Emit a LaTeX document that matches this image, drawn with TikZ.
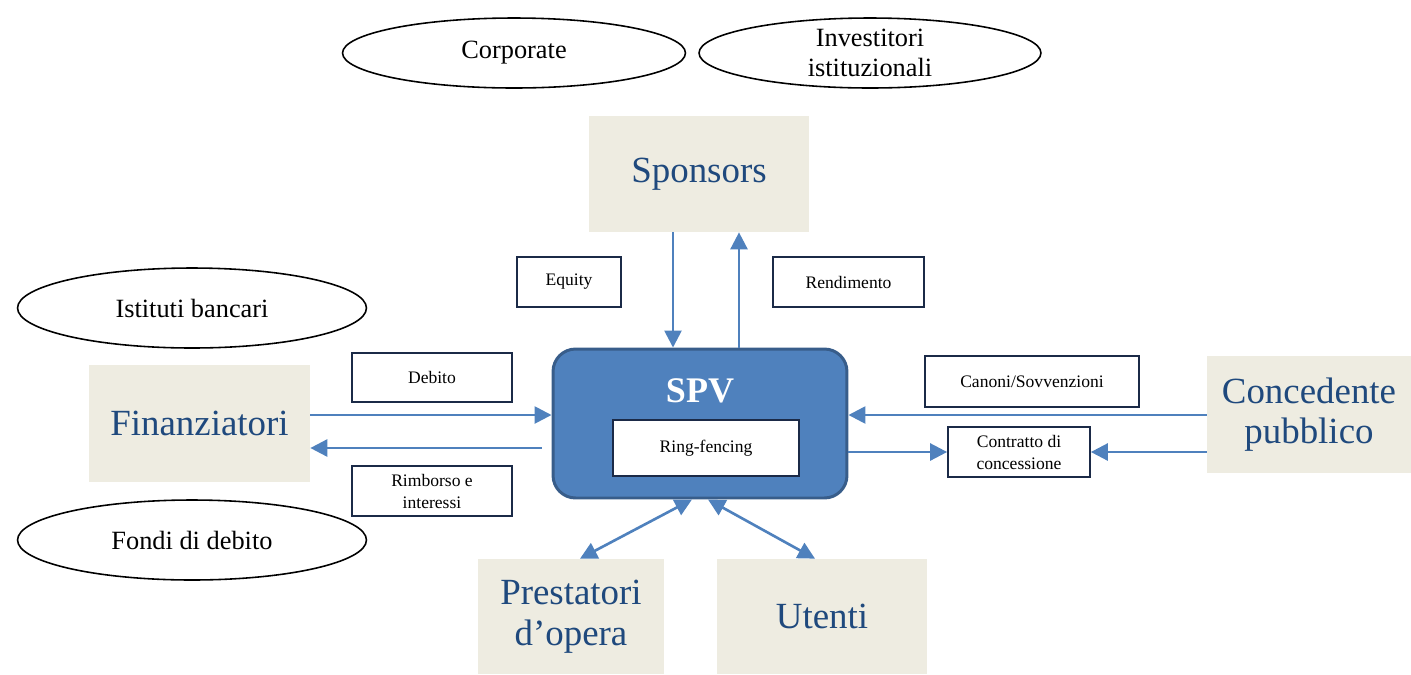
\documentclass[tikz,border=0pt]{standalone}
\usepackage{fontspec}
\setmainfont{Liberation Serif}
\usepackage{xcolor}
\usetikzlibrary{arrows.meta, shapes, positioning}
\definecolor{tanbg}{HTML}{EEECE1}
\definecolor{textblue}{HTML}{1F497D}
\definecolor{accent}{HTML}{4F81BD}
\definecolor{accentdark}{HTML}{385D8A}
\definecolor{tagline}{HTML}{1B2A47}
\tikzset{> = { Triangle[length = 3.4mm, width = 3.4mm] }}

\begin{document}
\begin{tikzpicture}[x = 0.02cm, y = -0.02cm,
		party/.style = { fill = tanbg, text = textblue, font = \fontsize{21}{23}\selectfont, align = center, inner sep = 0pt },
		investor/.style = { draw, ellipse, line width = 0.9pt, font = \fontsize{15}{17}\selectfont, align = center, inner sep = 0pt, minimum height = 1.5cm },
		tagbox/.style = { draw = tagline, line width = 1pt, fill = white, font = \fontsize{10}{12.5}\selectfont, align = center, inner sep = 0pt, minimum height = 1cm },
		flow/.style = { ->, draw = accent, line width = 1.5pt }]
		\useasboundingbox (0,0) rectangle (1411,674);

		\node [investor, minimum width = 6.86cm, minimum height = 1.4cm] (corp) at (514,53) {Corporate};
		\node [investor, minimum width = 6.84cm, minimum height = 1.4cm] (inst) at (870,53) {Investitori\\istituzionali};
		\node [investor, minimum width = 6.98cm, minimum height = 1.6cm] (banks) at (192,308) {Istituti bancari};
		\node [investor, minimum width = 6.98cm, minimum height = 1.6cm] (funds) at (192,540) {Fondi di debito};

		\node [party, minimum width = 4.4cm, minimum height = 2.32cm] (sponsors) at (699,174) {Sponsors};
		\node [party, minimum width = 4.42cm, minimum height = 2.34cm] (fin) at (199.5,423.5) {Finanziatori};
		\node [party, minimum width = 4.08cm, minimum height = 2.34cm] (conc) at (1309,414.5) {Concedente\\pubblico};
		\node [party, minimum width = 3.72cm, minimum height = 2.3cm] (prest) at (571,616.5) {Prestatori\\d’opera};
		\node [party, minimum width = 4.2cm, minimum height = 2.3cm] (users) at (822,616.5) {Utenti};

		\node [draw = accentdark, fill = accent, line width = 1.7pt, rounded corners = 0.45cm, minimum width = 5.88cm, minimum height = 2.98cm] (spv) at (700,423.5) {};
		\node [text = white, font = \bfseries\fontsize{20.5}{24}\selectfont] (spvtitle) at (700,391) {SPV};
		\node [tagbox, minimum width = 3.72cm, minimum height = 1.12cm] (ring) at (706,448) {Ring-fencing};

		\node [tagbox, minimum width = 2.08cm] (equity) at (569,282) {Equity};
		\node [tagbox, minimum width = 3.02cm] (yield) at (848.5,282) {Rendimento};
		\node [tagbox, minimum width = 3.2cm, minimum height = 0.98cm] (debt) at (432,377.5) {Debito};
		\node [tagbox, minimum width = 3.2cm] (repay) at (432,491) {Rimborso e\\interessi};
		\node [tagbox, minimum width = 4.28cm, minimum height = 1.02cm] (fees) at (1032,381.5) {Canoni/Sovvenzioni};
		\node [tagbox, minimum width = 2.84cm] (deal) at (1019,452) {Contratto di\\concessione};

		\draw [flow] (sponsors.south -| 673,0) -- (spv.north -| 673,0);
		\draw [flow] (spv.north -| 739,0) -- (sponsors.south -| 739,0);

		\draw [flow] (fin.east |- 0,415) -- (spv.west |- 0,415);
		\draw [flow, shorten < = 0.2cm] (spv.west |- 0,448) -- (fin.east |- 0,448);

		\draw [flow] (conc.west |- 0,415) -- (spv.east |- 0,415);
		\draw [flow] (spv.east |- 0,452) -- (deal.west);
		\draw [flow] (conc.west |- 0,452) -- (deal.east);

		\draw [flow, <->] (spv.south -| 692,0) -- (prest.north -| 580,0);
		\draw [flow, <->] (spv.south -| 708,0) -- (users.north -| 815,0);
	\end{tikzpicture}
\end{document}
